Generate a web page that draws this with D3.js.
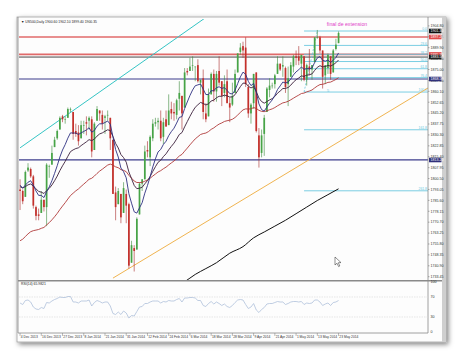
<!DOCTYPE html>
<html>
<head>
<meta charset="utf-8">
<script src="https://cdn.jsdelivr.net/npm/d3@7"></script>
<style>
  body { margin: 0; background: #fff; }
  svg { display: block; font-family: "Liberation Sans", Arial, sans-serif; }
</style>
</head>
<body>
<div class="chart"></div>
<script>
// US500 Daily candles, 4 Dec 2013 .. 23 May 2014 (bar index 0..120)
const opens = [
  1793,1792,1788,1806,1807,1802,1781,1776,1777,1786,
  1781,1809,1810,1822,1828,1834,1843,1841,1842,1848,
  1846,1833,1832,1828,1837,1839,1840,1841,1820,1840,
  1847,1844,1842,1844,1842,1827,1791,1783,1790,1777,
  1790,1783,1743,1753,1752,1776,1797,1800,1820,1815,
  1828,1838,1839,1840,1829,1841,1837,1848,1846,1844,
  1855,1857,1849,1874,1874,1878,1877,1878,1866,1869,
  1845,1843,1858,1872,1860,1874,1867,1859,1867,1852,
  1851,1859,1873,1887,1891,1890,1863,1845,1852,1873,
  1830,1818,1831,1846,1861,1864,1865,1872,1879,1877,
  1876,1865,1870,1877,1884,1884,1879,1884,1868,1877,
  1875,1880,1897,1897,1888,1871,1876,1884,1873,1889,
  1893];
const highs = [
  1800,1793,1806,1811,1808,1803,1782,1780,1792,1786,
  1811,1810,1823,1829,1834,1843,1844,1843,1849,1849,
  1846,1838,1837,1840,1840,1843,1843,1843,1839,1850,
  1847,1847,1844,1847,1842,1827,1795,1794,1790,1798,
  1793,1784,1758,1755,1774,1798,1800,1823,1826,1830,
  1841,1842,1842,1847,1842,1847,1858,1853,1852,1855,
  1867,1857,1876,1876,1883,1884,1877,1882,1868,1875,
  1852,1862,1873,1875,1874,1884,1867,1871,1875,1856,
  1866,1875,1886,1893,1894,1897,1865,1852,1872,1873,
  1835,1834,1844,1863,1869,1866,1872,1884,1879,1884,
  1877,1877,1880,1885,1888,1891,1885,1884,1879,1889,
  1878,1897,1902,1898,1888,1878,1886,1884,1889,1896,
  1901];
const lows = [
  1779,1783,1788,1805,1801,1780,1772,1772,1777,1778,
  1768,1801,1810,1822,1827,1834,1839,1838,1842,1846,
  1827,1829,1823,1828,1831,1830,1834,1815,1820,1840,
  1840,1834,1831,1840,1820,1790,1772,1783,1770,1777,
  1770,1739,1743,1737,1752,1776,1792,1800,1815,1809,
  1826,1836,1834,1826,1824,1836,1837,1841,1840,1841,
  1847,1834,1849,1871,1874,1874,1867,1866,1858,1841,
  1839,1843,1858,1853,1853,1864,1850,1856,1852,1839,
  1850,1859,1873,1885,1883,1863,1842,1838,1848,1832,
  1808,1815,1816,1846,1856,1862,1862,1872,1874,1870,
  1859,1850,1870,1873,1878,1878,1867,1867,1864,1871,
  1868,1880,1896,1886,1862,1865,1872,1868,1873,1888,
  1893];
const closes = [
  1792,1785,1805,1808,1802,1782,1775,1775,1786,1781,
  1810,1809,1818,1827,1833,1842,1841,1841,1848,1848,
  1831,1831,1826,1837,1837,1838,1842,1819,1838,1848,
  1845,1838,1843,1844,1828,1790,1781,1792,1774,1794,
  1782,1741,1755,1751,1773,1797,1800,1819,1819,1829,
  1838,1839,1840,1828,1839,1836,1847,1845,1845,1854,
  1859,1845,1873,1873,1877,1878,1877,1867,1868,1846,
  1841,1858,1872,1860,1872,1866,1857,1865,1852,1849,
  1857,1872,1886,1890,1888,1865,1845,1851,1872,1833,
  1815,1830,1842,1862,1864,1864,1871,1879,1875,1878,
  1863,1869,1878,1884,1883,1881,1885,1868,1878,1875,
  1878,1897,1897,1888,1870,1878,1885,1872,1888,1892,
  1900];

// moving averages
const maFast = [
  1796,1794,1796,1798,1799,1796,1792,1789,1789,1787.5,
  1791.6,1794.8,1799,1804,1809.3,1815.2,1820,1823.7,1828.1,1831.7,
  1831.6,1831.6,1830.6,1831.7,1832.7,1833.7,1835.2,1832.2,1833.3,1836.3,
  1837.9,1837.9,1838.8,1839.8,1837.6,1829,1820.3,1815.2,1807.7,1805.2,
  1801,1790.1,1783.7,1777.8,1776.9,1780.5,1784,1790.5,1795.7,1801.8,
  1808.4,1814,1818.7,1820.4,1823.8,1826,1829.8,1832.6,1834.9,1838.4,
  1842.3,1842.8,1848.3,1852.8,1857.2,1861,1863.9,1864.5,1865.1,1861.6,
  1857.9,1857.9,1860.5,1860.5,1862.6,1863.2,1862.1,1862.6,1860.7,1858.6,
  1858.3,1860.8,1865.4,1869.9,1873.2,1871.7,1866.9,1864,1865.5,1859.6,
  1851.5,1847.6,1846.6,1849.4,1852,1854.2,1857.3,1861.3,1863.8,1866.4,
  1865.8,1866.4,1868.5,1871.3,1873.4,1874.8,1876.7,1875.1,1875.6,1875.5,
  1876,1879.8,1882.9,1883.8,1881.3,1880.7,1881.5,1879.8,1881.3,1883.2,
  1886.3];
const maMid = [
  1795,1794,1795,1796.2,1796.8,1795.4,1793.5,1791.7,1791.2,1790.3,
  1792.2,1793.8,1796.1,1799,1802.2,1805.9,1809.2,1812.2,1815.7,1818.9,
  1820.1,1821,1821.5,1823,1824.3,1825.6,1827.1,1826.4,1827.5,1829.5,
  1831,1831.7,1832.8,1833.8,1833.3,1829.2,1824.5,1821.4,1816.9,1814.8,
  1811.7,1805,1800.4,1795.8,1793.6,1793.9,1794.5,1796.9,1799.1,1801.9,
  1805.4,1808.6,1811.6,1813,1815.5,1817.4,1820.1,1822.5,1824.7,1827.5,
  1830.6,1831.9,1835.8,1839.4,1843,1846.3,1849.2,1850.9,1852.5,1851.8,
  1850.8,1851.5,1853.5,1854.1,1855.7,1856.7,1856.7,1857.5,1857,1856.2,
  1856.3,1857.8,1860.5,1863.3,1865.7,1865.6,1863.6,1862.4,1863.3,1859.9,
  1855.5,1853.1,1852,1853.1,1854.2,1855.1,1856.6,1858.8,1860.3,1862,
  1862.1,1862.7,1864.3,1866.4,1868,1869.2,1870.6,1870.3,1871.1,1871.4,
  1872,1874.4,1876.5,1877.6,1876.8,1877,1877.8,1877.3,1878.3,1879.6,
  1881.5];
const maSlow = [
  1758,1759.1,1760.9,1762.7,1764.2,1764.9,1765.3,1765.7,1766.5,1767.1,
  1768.8,1770.4,1772.3,1774.4,1776.7,1779.3,1781.7,1784,1786.5,1788.9,
  1790.5,1792.1,1793.4,1795.1,1796.7,1798.3,1800,1800.7,1802.2,1804,
  1805.6,1806.9,1808.3,1809.7,1810.4,1809.6,1808.5,1807.9,1806.6,1806.1,
  1805.2,1802.7,1800.8,1798.8,1797.8,1797.8,1797.9,1798.7,1799.5,1800.7,
  1802.2,1803.6,1805,1805.9,1807.2,1808.3,1809.8,1811.2,1812.5,1814.1,
  1815.9,1817,1819.2,1821.3,1823.5,1825.6,1827.6,1829.1,1830.6,1831.2,
  1831.6,1832.6,1834.1,1835.1,1836.5,1837.7,1838.5,1839.5,1840,1840.4,
  1841,1842.2,1843.9,1845.7,1847.4,1848.1,1848,1848.1,1849,1848.4,
  1847.1,1846.4,1846.2,1846.8,1847.5,1848.1,1849,1850.2,1851.2,1852.2,
  1852.6,1853.3,1854.3,1855.4,1856.5,1857.5,1858.6,1858.9,1859.7,1860.3,
  1861,1862.4,1863.7,1864.7,1864.9,1865.4,1866.2,1866.4,1867.3,1868.2,
  1869.4];
// long average (only its upper end is on screen)
const longMaBars = [58, 62, 66, 70, 74, 79, 84, 88, 92, 96, 100, 104, 108, 112, 116, 120];
const longMa = [1726, 1730, 1735, 1739, 1743, 1749.5, 1754, 1760, 1764, 1768, 1772, 1776.5, 1781, 1785.5, 1789.5, 1793.5];

const rsi = [
  58,55,63,64,60,50,46,45,49,47,
  59,58,62,65,67,70,69,69,71,71,
  60,60,58,62,62,62,64,52,59,63,
  61,58,60,60,52,37,35,40,35,42,
  38,28,33,32,41,50,51,57,57,60,
  62,62,62,58,61,60,63,62,62,65,
  67,60,68,68,69,69,68,63,63,53,
  51,57,61,56,60,57,53,56,51,49,
  53,59,64,65,64,55,47,50,57,44,
  39,45,49,56,57,57,59,61,60,60,
  55,57,60,61,61,60,61,55,58,57,
  58,64,64,60,53,56,58,53,59,60,
  63];

// drawn objects
const redLevels = [1897.2, 1885.3];
const blackLevels = [1883.5];
const navyLevels = [1868.5, 1813.2];
const bidPrice = 1901.3;
const cyanTrend = [[0, 1821.5], [80, 1923.3]];
const orangeTrend = [[35, 1732.5], [154, 1862.7]];
const fibHigh = 1901.3, fibLow = 1859.6, fibStartBar = 107;
const fibLevels = [0, 23.6, 38.2, 50, 61.8, 76.4, 100, 161.8, 261.8];
const fibAnchors = [[107, 1859.6], [112, 1901.3]];

const priceTicks = [1904.80, 1897.35, 1889.90, 1882.45, 1875.00, 1867.55, 1860.10, 1852.65,
  1845.20, 1837.75, 1830.30, 1822.85, 1815.40, 1807.95, 1800.50, 1793.05, 1785.60,
  1778.15, 1770.70, 1763.25, 1755.80, 1748.35, 1740.90, 1733.45];
const rsiTicks = [100, 70, 30, 0];
const dateBars = [0, 8, 16, 24, 32, 40, 48, 56, 64, 72, 80, 88, 96, 104, 112, 120];
const dateLabels = ["4 Dec 2013", "16 Dec 2013", "27 Dec 2013", "8 Jan 2014", "21 Jan 2014",
  "31 Jan 2014", "12 Feb 2014", "24 Feb 2014", "6 Mar 2014", "18 Mar 2014", "28 Mar 2014",
  "9 Apr 2014", "21 Apr 2014", "1 May 2014", "13 May 2014", "23 May 2014"];

const W = 460, H = 358;
const pLeft = 19, pRight = 428, pTop = 19, mainBottom = 280, rsiTop = 282, rsiBottom = 332;

const svg = d3.select(".chart").append("svg")
  .attr("width", W).attr("height", H);

const defs = svg.append("defs");
const shadow = defs.append("filter").attr("id", "shadow")
  .attr("x", "-5%").attr("y", "-5%").attr("width", "112%").attr("height", "112%");
shadow.append("feDropShadow").attr("dx", 2).attr("dy", 2).attr("stdDeviation", 2.4)
  .attr("flood-color", "#000").attr("flood-opacity", 0.5);
defs.append("clipPath").attr("id", "mainClip").append("rect")
  .attr("x", pLeft).attr("y", pTop).attr("width", pRight - pLeft).attr("height", mainBottom - pTop);
defs.append("clipPath").attr("id", "rsiClip").append("rect")
  .attr("x", pLeft).attr("y", rsiTop - 1).attr("width", pRight - pLeft).attr("height", rsiBottom - rsiTop + 2);

// window frame
svg.append("rect").attr("x", 17).attr("y", 17).attr("width", 429).attr("height", 325)
  .attr("fill", "#fdfdfd").attr("stroke", "#a0a0a0").attr("stroke-width", 0.8)
  .attr("filter", "url(#shadow)");
svg.append("rect").attr("x", 442).attr("y", 17).attr("width", 4).attr("height", 325).attr("fill", "#cfcfcf");

// scales
const x = d3.scaleLinear().domain([-0.4, 153.7]).range([pLeft, pRight]);
const y = d3.scaleLinear().domain([1731.2, 1909.5]).range([mainBottom, pTop]);
const yr = d3.scaleLinear().domain([0, 100]).range([rsiBottom, rsiTop]);

const main = svg.append("g").attr("clip-path", "url(#mainClip)");

// horizontal levels
main.selectAll(".red-level").data(redLevels).join("line")
  .attr("x1", pLeft).attr("x2", pRight).attr("y1", d => y(d)).attr("y2", d => y(d))
  .attr("stroke", "#e06a6a").attr("stroke-width", 1.6);
main.selectAll(".black-level").data(blackLevels).join("line")
  .attr("x1", pLeft).attr("x2", pRight).attr("y1", d => y(d)).attr("y2", d => y(d))
  .attr("stroke", "#333").attr("stroke-width", 0.9);
main.selectAll(".navy-level").data(navyLevels).join("line")
  .attr("x1", pLeft).attr("x2", pRight).attr("y1", d => y(d)).attr("y2", d => y(d))
  .attr("stroke", "#3c3c8c").attr("stroke-width", 1.2);

// fibonacci levels
const fibPrice = r => fibHigh - (fibHigh - fibLow) * r / 100;
main.selectAll(".fib").data(fibLevels).join("line")
  .attr("x1", x(fibStartBar)).attr("x2", pRight)
  .attr("y1", d => y(fibPrice(d))).attr("y2", d => y(fibPrice(d)))
  .attr("stroke", "#6cc8e0").attr("stroke-width", 0.9);
main.selectAll(".fib-label").data(fibLevels).join("text")
  .attr("x", pRight - 1).attr("y", d => y(fibPrice(d)) - 0.6)
  .attr("text-anchor", "end").attr("font-size", 3.4).attr("fill", "#6cc8e0")
  .text(d => d.toFixed(1));
main.append("path").datum(fibAnchors)
  .attr("d", d3.line().x(d => x(d[0])).y(d => y(d[1])))
  .attr("stroke", "#6cc8e0").attr("stroke-width", 0.8).attr("stroke-dasharray", "2,1.5").attr("fill", "none");

// trend lines
const trend = d3.line().x(d => x(d[0])).y(d => y(d[1]));
main.append("path").datum(cyanTrend).attr("d", trend)
  .attr("stroke", "#35c4c4").attr("stroke-width", 1).attr("fill", "none");
main.append("path").datum(orangeTrend).attr("d", trend)
  .attr("stroke", "#f0b450").attr("stroke-width", 1).attr("fill", "none");

// long average
main.append("path").datum(longMaBars.map((b, i) => [b, longMa[i]]))
  .attr("d", d3.line().x(d => x(d[0])).y(d => y(d[1])).curve(d3.curveMonotoneX))
  .attr("stroke", "#111").attr("stroke-width", 1).attr("fill", "none");

// candles
const bars = closes.map((c, i) => ({ i, o: opens[i], h: highs[i], l: lows[i], c }));
const bw = 1.7;
const candles = main.selectAll(".candle").data(bars).join("g");
candles.append("line")
  .attr("x1", d => x(d.i)).attr("x2", d => x(d.i))
  .attr("y1", d => y(d.h)).attr("y2", d => y(d.l))
  .attr("stroke", d => d.c >= d.o ? "#3a8a3a" : "#a82a2a").attr("stroke-width", 0.6);
candles.append("rect")
  .attr("x", d => x(d.i) - bw / 2).attr("width", bw)
  .attr("y", d => y(Math.max(d.o, d.c)))
  .attr("height", d => Math.max(0.6, Math.abs(y(d.o) - y(d.c))))
  .attr("fill", d => d.c >= d.o ? "#47a447" : "#c4302b");

// moving averages
const maLine = d3.line().x((d, i) => x(i)).y(d => y(d));
main.append("path").datum(maSlow).attr("d", maLine)
  .attr("stroke", "#b03a3a").attr("stroke-width", 0.9).attr("fill", "none");
main.append("path").datum(maMid).attr("d", maLine)
  .attr("stroke", "#3a1e3a").attr("stroke-width", 0.9).attr("fill", "none");
main.append("path").datum(maFast).attr("d", maLine)
  .attr("stroke", "#2c2f80").attr("stroke-width", 0.9).attr("fill", "none");

// annotations
svg.append("text").attr("x", 347).attr("y", 26).attr("text-anchor", "middle")
  .attr("font-size", 5.2).attr("fill", "#e040c8").text("final de extension");
svg.append("text").attr("x", 327).attr("y", 92).attr("font-size", 4).attr("fill", "#6cc8e0").text("5");

// chart title
svg.append("text").attr("x", 21).attr("y", 22.5).attr("font-size", 3.4).attr("fill", "#222")
  .text("▼ US500,Daily  1900.60 1902.10 1899.40 1900.35");

// panel borders
svg.append("line").attr("x1", pRight).attr("x2", pRight).attr("y1", pTop - 2).attr("y2", rsiBottom + 1)
  .attr("stroke", "#888").attr("stroke-width", 0.8);
svg.append("line").attr("x1", pLeft - 1).attr("x2", 442).attr("y1", mainBottom + 0.8).attr("y2", mainBottom + 0.8)
  .attr("stroke", "#8a8a8a").attr("stroke-width", 1.6);
svg.append("line").attr("x1", pLeft - 1).attr("x2", pRight).attr("y1", rsiBottom + 1).attr("y2", rsiBottom + 1)
  .attr("stroke", "#888").attr("stroke-width", 0.8);
svg.append("line").attr("x1", pLeft - 1).attr("x2", pLeft - 1).attr("y1", pTop - 2).attr("y2", rsiBottom + 1)
  .attr("stroke", "#888").attr("stroke-width", 0.8);

// price axis
const priceAxis = svg.append("g");
priceAxis.selectAll("text").data(priceTicks).join("text")
  .attr("x", pRight + 2.5).attr("y", d => y(d) + 1.3)
  .attr("font-size", 3.6).attr("fill", "#333").text(d => d.toFixed(2));
priceAxis.selectAll("line").data(priceTicks).join("line")
  .attr("x1", pRight).attr("x2", pRight + 1.5).attr("y1", d => y(d)).attr("y2", d => y(d))
  .attr("stroke", "#666").attr("stroke-width", 0.5);

// price tags on the axis
const tags = [
  ...redLevels.map(p => ({ p, fill: "#e04848" })),
  ...blackLevels.map(p => ({ p, fill: "#202020" })),
  ...navyLevels.map(p => ({ p, fill: "#30307a" })),
  { p: bidPrice, fill: "#101010" }
];
const tag = svg.selectAll(".tag").data(tags).join("g");
tag.append("rect").attr("x", pRight + 1).attr("y", d => y(d.p) - 2.3).attr("width", 12.5).attr("height", 4.6)
  .attr("fill", d => d.fill);
tag.append("text").attr("x", pRight + 2.5).attr("y", d => y(d.p) + 1.3)
  .attr("font-size", 3.6).attr("fill", "#fff").text(d => d.p.toFixed(2));

// RSI panel
const rsiG = svg.append("g");
rsiG.selectAll(".lvl").data([70, 30]).join("line")
  .attr("x1", pLeft).attr("x2", pRight).attr("y1", d => yr(d)).attr("y2", d => yr(d))
  .attr("stroke", "#d8d8d8").attr("stroke-width", 0.6).attr("stroke-dasharray", "1.5,1");
rsiG.append("path").datum(rsi).attr("clip-path", "url(#rsiClip)")
  .attr("d", d3.line().x((d, i) => x(i)).y(d => yr(d)))
  .attr("stroke", "#aec0da").attr("stroke-width", 0.8).attr("fill", "none");
rsiG.selectAll(".rlab").data(rsiTicks).join("text")
  .attr("x", pRight + 2.5).attr("y", d => yr(d) + 1.3)
  .attr("font-size", 3.6).attr("fill", "#333").text(d => d);
rsiG.append("text").attr("x", 21).attr("y", rsiTop + 3.4).attr("font-size", 3.4).attr("fill", "#222")
  .text("RSI(14) 65.9821");

// date axis
const dates = svg.append("g");
dates.selectAll("line").data(dateBars).join("line")
  .attr("x1", d => x(d)).attr("x2", d => x(d)).attr("y1", rsiBottom + 1).attr("y2", rsiBottom + 4)
  .attr("stroke", "#777").attr("stroke-width", 0.5);
dates.selectAll("text").data(dateBars).join("text")
  .attr("x", d => x(d) + 0.8).attr("y", rsiBottom + 5.8)
  .attr("font-size", 3.3).attr("fill", "#333").text((d, i) => dateLabels[i]);

// mouse pointer
svg.append("path")
  .attr("d", "M335,257 L335,265 L337,263.2 L338.6,266.6 L339.8,266 L338.3,262.7 L341,262.6 Z")
  .attr("fill", "#fff").attr("stroke", "#222").attr("stroke-width", 0.5);
</script>
</body>
</html>
